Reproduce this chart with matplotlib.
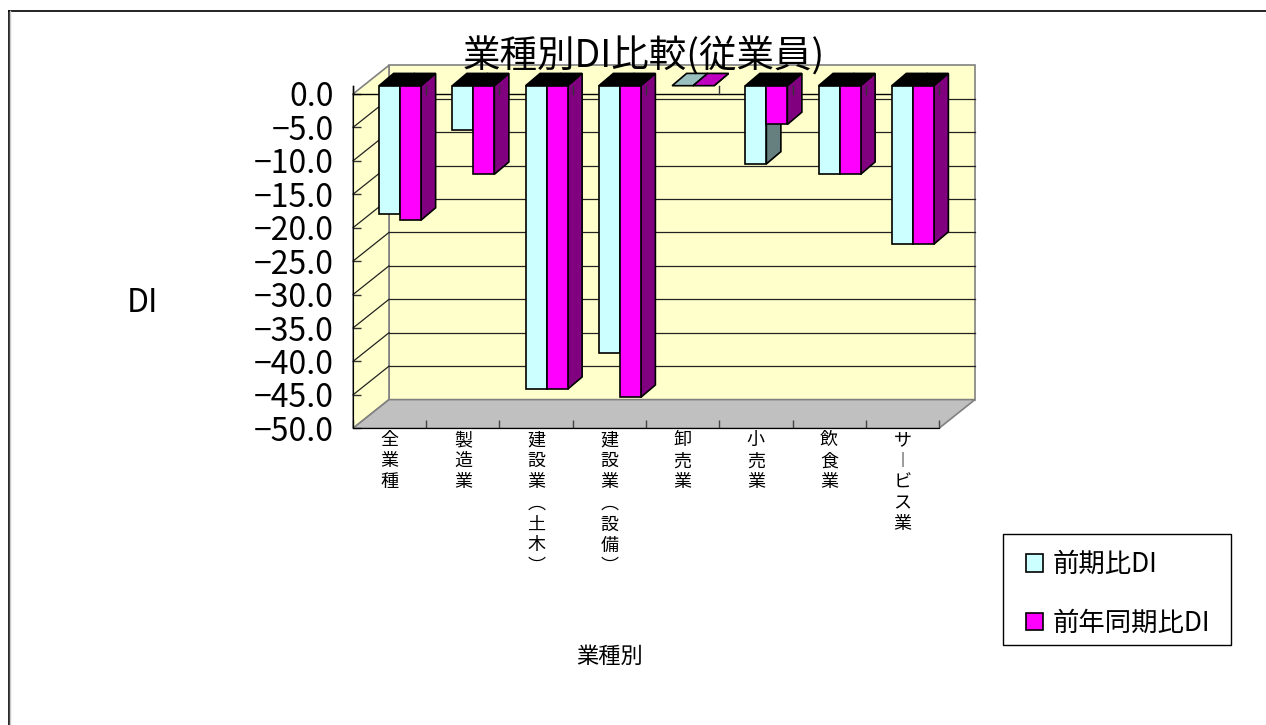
import matplotlib
matplotlib.use("Agg")
import matplotlib.pyplot as plt
from matplotlib.patches import Polygon, Patch, Rectangle
from matplotlib.lines import Line2D

plt.rcParams['font.family'] = ['Noto Sans CJK JP', 'DejaVu Sans']

categories = ['全業種', '製造業', '建設業︵土木︶', '建設業︵設備︶', '卸売業', '小売業', '飲食業', 'サ︱ビス業']
prev_term = [-19.2, -6.6, -45.4, -40.0, 0.0, -11.7, -13.25, -23.7]
prev_year = [-20.1, -13.25, -45.4, -46.6, 0.0, -5.8, -13.25, -23.7]
y_ticks = [0, -5, -10, -15, -20, -25, -30, -35, -40, -45, -50]
series_names = ['前期比DI', '前年同期比DI']

W, H = 1266, 725
LEFT, RIGHT, TOP, BOTTOM = 353, 939, 94, 428.3

fig = plt.figure(figsize=(W / 100, H / 100), dpi=100)
ax = fig.add_axes([LEFT / W, 1 - BOTTOM / H, (RIGHT - LEFT) / W, (BOTTOM - TOP) / H])
ax.set_xlim(0, len(categories))
ax.set_ylim(-50, 0)

# pixels to data units, for the oblique depth
ux = len(categories) / (RIGHT - LEFT)
uy = 50 / (BOTTOM - TOP)
wall_dx, wall_dy = 36 * ux, 28.7 * uy
front_dx, front_dy = 10.5 * ux, 8.3 * uy
bar_dx, bar_dy = 14.5 * ux, 12.3 * uy
bar_w = 21 * ux

n = len(categories)
grey = '#808080'
wall = '#FFFFCC'

def poly(points, **kw):
    ax.add_patch(Polygon(points, closed=True, clip_on=False, **kw))

poly([(wall_dx, wall_dy), (n + wall_dx, wall_dy), (n + wall_dx, -50 + wall_dy), (wall_dx, -50 + wall_dy)],
     facecolor=wall, edgecolor=grey, lw=1.2, zorder=1)
poly([(0, 0), (wall_dx, wall_dy), (wall_dx, -50 + wall_dy), (0, -50)],
     facecolor=wall, edgecolor=grey, lw=1.2, zorder=1)
poly([(0, -50), (n, -50), (n + wall_dx, -50 + wall_dy), (wall_dx, -50 + wall_dy)],
     facecolor='#C0C0C0', edgecolor=grey, lw=1.2, zorder=1)

for v in y_ticks[1:-1]:
    ax.plot([wall_dx, n + wall_dx], [v + wall_dy, v + wall_dy], color='#222222', lw=0.9, zorder=2, clip_on=False)
    ax.plot([0, wall_dx], [v, v + wall_dy], color='#222222', lw=0.9, zorder=2, clip_on=False)
ax.plot([0, n], [0, 0], color='black', lw=1, zorder=2, clip_on=False)

for i in range(n):
    for j, (vals, front, side, flat) in enumerate([
            (prev_term, '#CCFFFF', '#668080', '#99BFBF'),
            (prev_year, '#FF00FF', '#800080', '#BF00BF')]):
        v = vals[i]
        x0 = i + 0.5 - bar_w + j * bar_w + front_dx
        x1 = x0 + bar_w
        z = 3 + i + j * 0.1
        y_top = front_dy
        y_low = v + front_dy
        poly([(x1, y_top), (x1 + bar_dx, y_top + bar_dy), (x1 + bar_dx, y_low + bar_dy), (x1, y_low)],
             facecolor=side, edgecolor='black', lw=1.2, zorder=z)
        poly([(x0, y_top), (x1, y_top), (x1 + bar_dx, y_top + bar_dy), (x0 + bar_dx, y_top + bar_dy)],
             facecolor=flat if v == 0 else 'black', edgecolor='black', lw=1.2, zorder=z)
        if v != 0:
            ax.bar(x0, v, bottom=y_top, width=bar_w, align='edge', color=front,
                   edgecolor='black', lw=1.2, zorder=z + 0.05, clip_on=False)

# tick marks above the zero line stay on top of the bars
for i in range(n + 1):
    ax.plot([i, i], [0, 8.3 * uy], color='#333333', lw=1, zorder=20, clip_on=False)

ax.spines['top'].set_visible(False)
ax.spines['right'].set_visible(False)
ax.spines['left'].set_zorder(15)
ax.spines['bottom'].set_zorder(15)
ax.patch.set_visible(False)

ax.set_yticks(y_ticks)
ax.set_yticklabels([('%.1f' % v).replace('-', '\u2212') for v in y_ticks], fontsize=23)
ax.tick_params(axis='y', direction='in', length=6, width=1, color='#333333', pad=14)
ax.set_xticks(range(n + 1))
ax.set_xticklabels([])
ax.tick_params(axis='x', which='major', direction='in', length=6, width=1, color='#444444')
ax.set_xticks([i + 0.5 for i in range(n)], minor=True)
ax.set_xticklabels(['\n'.join(c) for c in categories], minor=True, fontsize=13, linespacing=1.22, va='top')
ax.tick_params(axis='x', which='minor', length=0, pad=2)

ax.plot([0, 0], [0, 8.3 * uy], color='black', lw=1, zorder=20, clip_on=False)

fig.text(644 / W, 1 - 57 / H, '業種別DI比較(従業員)', fontsize=27, ha='center', va='center')
ax.set_ylabel('DI', fontsize=23, rotation=0, va='center', ha='center')
ax.yaxis.set_label_coords(142 / W, 1 - 303 / H, transform=fig.transFigure)
ax.set_xlabel('業種別', fontsize=16, va='center', ha='center')
ax.xaxis.set_label_coords(610 / W, 1 - 656 / H, transform=fig.transFigure)

fig.add_artist(Rectangle((1002.5 / W, 1 - 645 / H), 228.5 / W, 111 / H, transform=fig.transFigure,
                         facecolor='white', edgecolor='black', lw=1))
handles = [Patch(facecolor='#CCFFFF', edgecolor='black', lw=1.2),
           Patch(facecolor='#FF00FF', edgecolor='black', lw=1.2)]
leg = fig.legend(handles, series_names, loc='upper left',
                 bbox_to_anchor=(1026 / W, 1 - 551 / H), bbox_transform=fig.transFigure,
                 fontsize=19, frameon=False, handlelength=0.65, handleheight=0.65, handletextpad=0.35,
                 labelspacing=1.2, borderpad=0, borderaxespad=0)

fig.add_artist(Line2D([8.5 / W, 1], [1 - 10.5 / H, 1 - 10.5 / H], color='black', lw=1.2))
fig.add_artist(Line2D([8.5 / W, 8.5 / W], [0, 1 - 10.5 / H], color='black', lw=1.2))
fig.add_artist(Line2D([10 / W, 10 / W], [0, 1 - 11 / H], color='#C8C8C8', lw=1))

fig.savefig('out.png', dpi=100)
